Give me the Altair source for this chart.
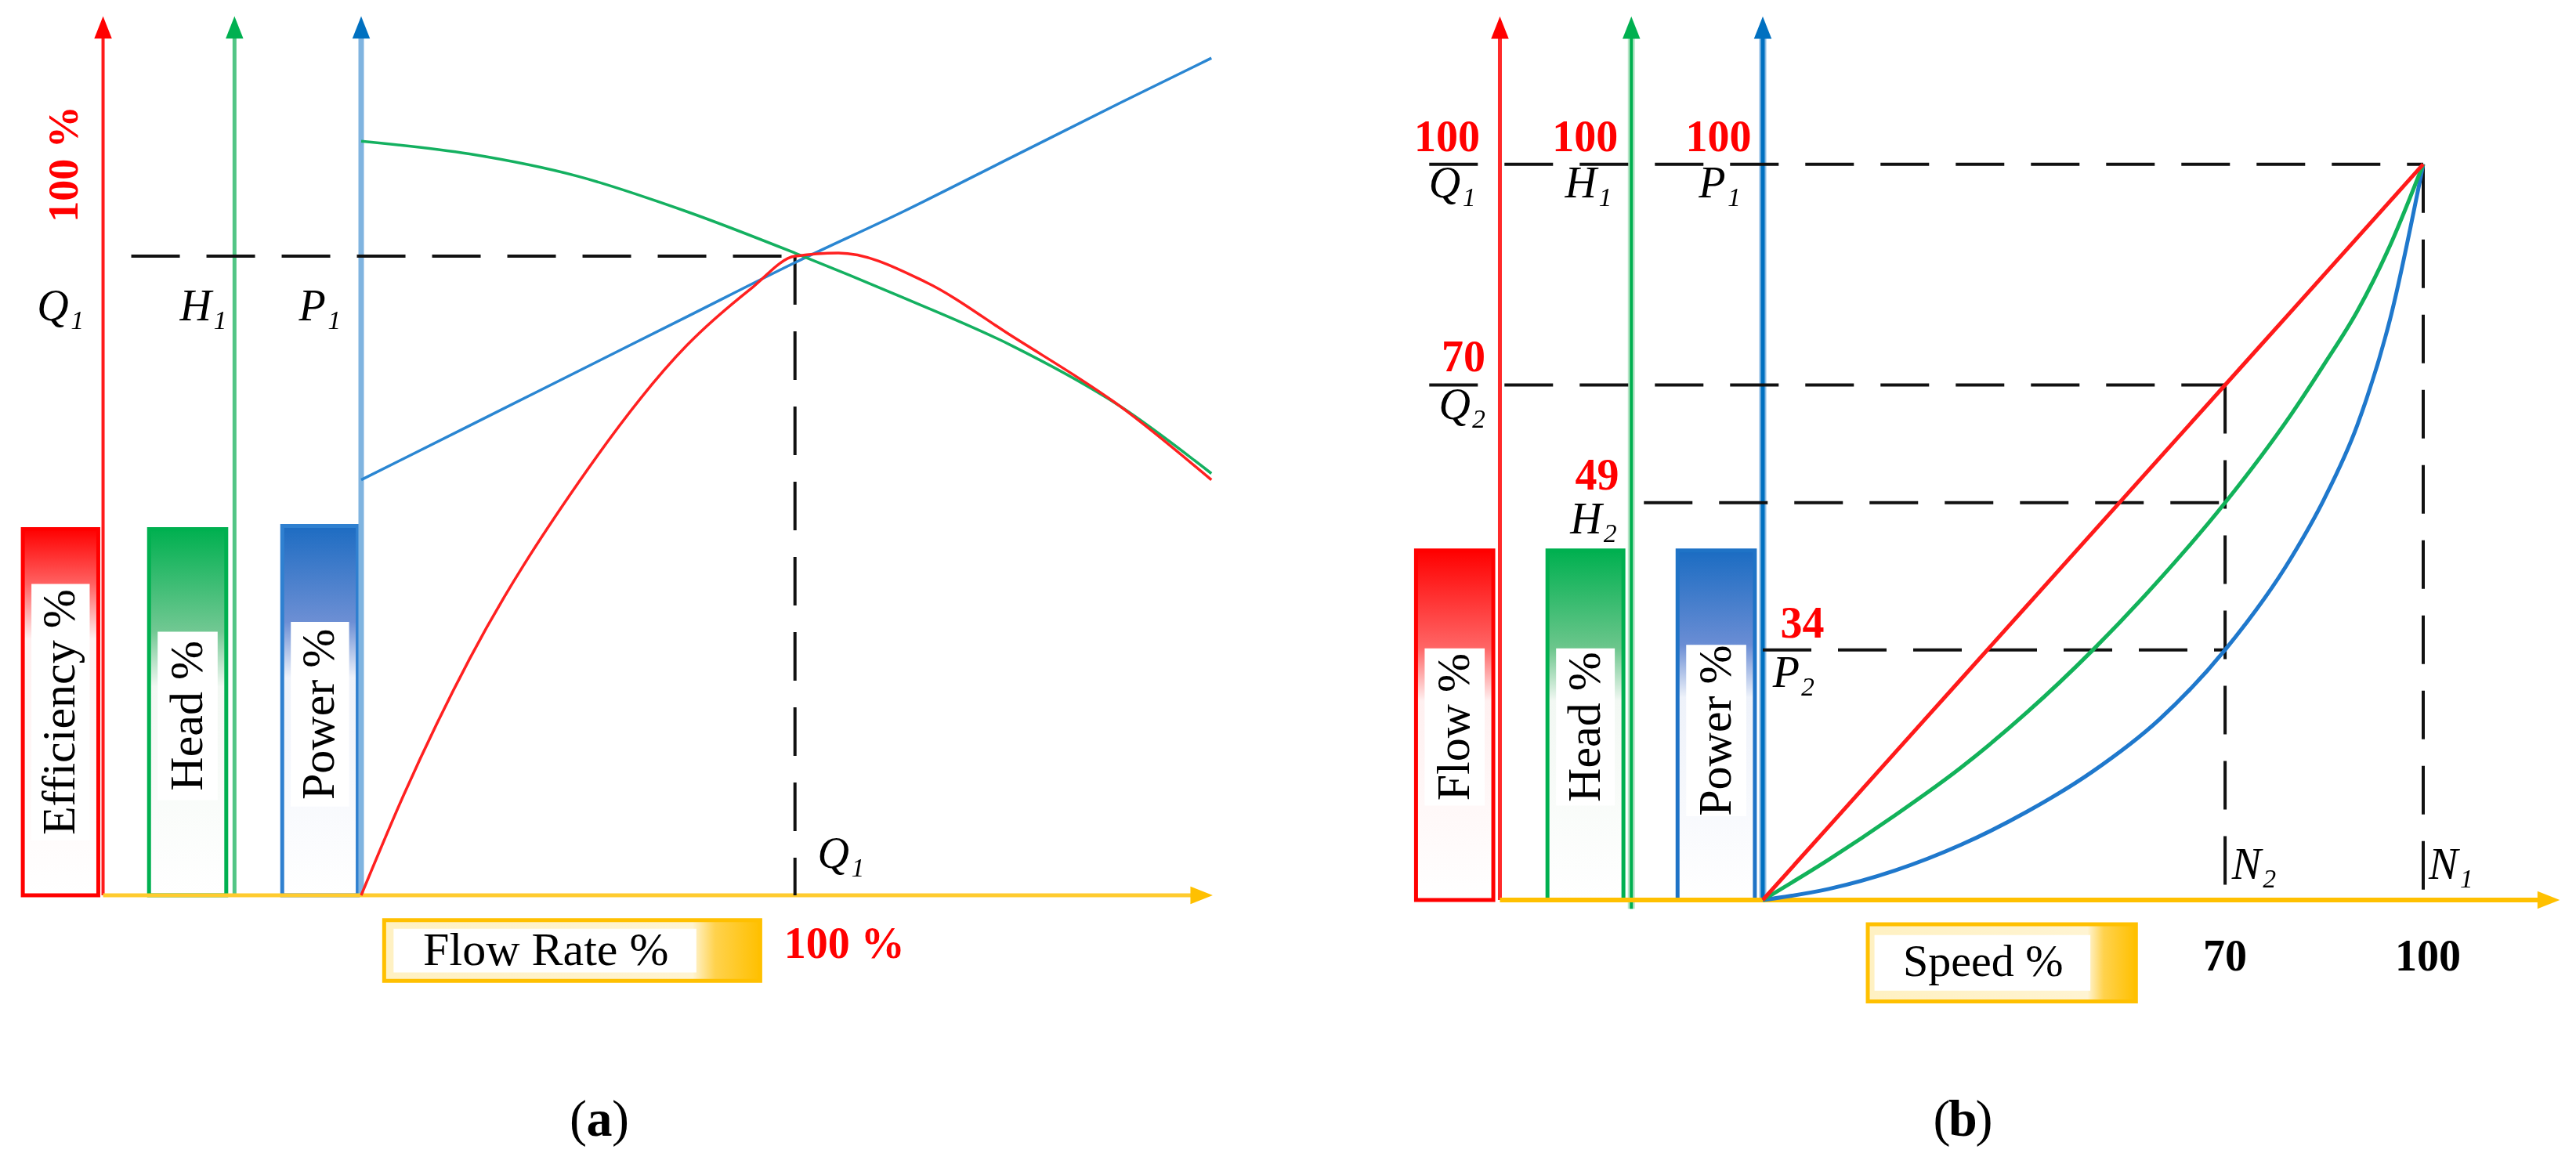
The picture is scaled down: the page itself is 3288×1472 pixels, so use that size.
import altair as alt
import pandas as pd

# ---------------- data: panel (a) pump characteristic curves ----------------
flow_eff = [0, 10, 25, 50, 75, 90, 100, 110, 130, 150, 175, 196]
efficiency_a = [0, 16, 37, 64.5, 86, 95, 100, 100.5, 96, 87.5, 76.5, 65]
flow_a = [0, 25, 50, 75, 100, 125, 150, 175, 196]
head_a = [118, 116, 112.5, 107, 100.5, 93.5, 86, 76.5, 66]
power_a = [65, 73.5, 82, 90.5, 99, 107, 115.5, 124, 131]
bep_flow = 100
bep_value = 100

# ---------------- data: panel (b) affinity laws ----------------
speed_b = [0, 10, 20, 30, 40, 50, 60, 70, 80, 85, 90, 95, 100]
flow_b = [0, 10, 20, 30, 40, 50, 60, 70, 80, 85, 90, 95, 100]
head_b = [0, 5.5, 11.5, 18, 25.5, 34, 43.5, 54, 66, 72.8, 80, 89, 100]
power_b = [0, 1.5, 4, 7.5, 12, 17.5, 24.5, 34, 46.5, 54.5, 64.5, 79, 100]
speed_points = [100, 70]
flow_marks = ["100", "70"]
head_marks = ["100", "49"]
power_marks = ["100", "34"]
speed_tick_labels = ["70", "100"]

RED, GREEN, BLUE, YELLOW = "#ff0000", "#00b050", "#0070c0", "#ffc000"
SERIF = "Liberation Serif"
ARROW_UP = "M0,-1L-0.75,0.9L0.75,0.9Z"
ARROW_RIGHT = "M1,0L-0.9,-0.75L-0.9,0.75Z"

W, H = 1636, 1448


class Panel:
    def __init__(self, x0, xppu, y0, yppu):
        self.xppu, self.yppu = xppu, yppu
        self.xs = alt.Scale(domain=[-x0 / xppu, (W - x0) / xppu], nice=False, zero=False)
        self.ys = alt.Scale(domain=[-(H - y0) / yppu, y0 / yppu], nice=False, zero=False)
        self.layers = []

    def enc(self, base, two=False):
        e = dict(x=alt.X("x:Q", scale=self.xs, axis=None),
                 y=alt.Y("y:Q", scale=self.ys, axis=None))
        if two:
            e["x2"] = alt.X2("x2:Q")
            e["y2"] = alt.Y2("y2:Q")
        return base.encode(**e)

    def seg(self, x, y, x2, y2, color, width, dash=None):
        df = pd.DataFrame({"x": [x], "y": [y], "x2": [x2], "y2": [y2]})
        kw = dict(color=color, strokeWidth=width)
        if dash:
            kw["strokeDash"] = dash
        self.layers.append(self.enc(alt.Chart(df).mark_rule(**kw), True))

    def dashed(self, x, y, x2, y2):
        self.seg(x, y, x2, y2, "#111111", 4, [62, 34])

    def curve(self, xs, ys, color, width):
        df = pd.DataFrame({"x": xs, "y": ys})
        self.layers.append(self.enc(alt.Chart(df).mark_line(
            color=color, strokeWidth=width, interpolate="monotone")))

    def arrow(self, x, y, shape, color, size=900):
        df = pd.DataFrame({"x": [x], "y": [y]})
        self.layers.append(self.enc(alt.Chart(df).mark_point(
            shape=shape, filled=True, size=size, color=color, opacity=1)))

    def text(self, x, y, s, size, color="black", weight="normal", style="normal",
             angle=0, dx=0, font=SERIF):
        df = pd.DataFrame({"x": [x], "y": [y], "t": [s]})
        kw = dict(font=font, fontSize=size, color=color, fontWeight=weight,
                  fontStyle=style, align="center", baseline="middle")
        if angle:
            kw["angle"] = angle
        if dx:
            kw["dx"] = dx
        self.layers.append(self.enc(alt.Chart(df).mark_text(**kw)).encode(text="t:N"))

    def caption(self, x, y, letter):
        self.text(x, y, "(", 66, dx=-27)
        self.text(x, y, letter, 66, weight="bold")
        self.text(x, y, ")", 66, dx=27)

    def rect(self, x, x2, y, y2, fill, stroke=None, sw=0):
        df = pd.DataFrame({"x": [x], "y": [y], "x2": [x2], "y2": [y2]})
        kw = dict(fill=fill)
        if stroke:
            kw.update(stroke=stroke, strokeWidth=sw)
        else:
            kw.update(strokeWidth=0)
        self.layers.append(self.enc(alt.Chart(df).mark_rect(**kw), True))

    def vbox(self, x, x2, ytop, c_top, c_mid, c_low, stroke, label, f_top, f_bot):
        grad = alt.Gradient(gradient="linear", x1=0, x2=0, y1=0, y2=1, stops=[
            alt.GradientStop(color=c_top, offset=0),
            alt.GradientStop(color=c_mid, offset=f_top),
            alt.GradientStop(color=c_low, offset=min(f_top + 0.15, 1)),
            alt.GradientStop(color="#ffffff", offset=1)])
        self.rect(x, x2, 0, ytop, grad, stroke, 5)
        inset = 11 / self.xppu
        self.rect(x + inset, x2 - inset, ytop * (1 - f_bot), ytop * (1 - f_top), "#ffffff")
        self.text((x + x2) / 2, ytop * (1 - (f_top + f_bot) / 2), label, 60, angle=270)

    def hbox(self, x, x2, y, y2, label, size):
        grad = alt.Gradient(gradient="linear", x1=0, x2=1, y1=0, y2=0, stops=[
            alt.GradientStop(color="#fff1c2", offset=0),
            alt.GradientStop(color="#fff4d2", offset=0.82),
            alt.GradientStop(color="#ffd24d", offset=0.88),
            alt.GradientStop(color=YELLOW, offset=1)])
        self.rect(x, x2, y, y2, grad, YELLOW, 5)
        w, h = x2 - x, y2 - y
        self.rect(x + 0.025 * w, x + 0.83 * w, y + 0.14 * h, y + 0.86 * h, "#ffffff")
        self.text(x + 0.43 * w, y + h / 2, label, size)

    def chart(self):
        return alt.layer(*self.layers).properties(width=W, height=H)


# ====================== panel (a) ======================
A = Panel(453, 5.537, 1135, 8.159)
A.vbox(-78, -60.6, 57.3, "#ff0000", "#ff6262", "#fff0f0", "#ff0000", "Efficiency %", 0.15, 0.85)
A.vbox(-48.9, -31.1, 57.3, "#00b050", "#72c893", "#f2f8f3", "#00b050", "Head %", 0.28, 0.74)
A.vbox(-18.2, -0.8, 57.8, "#1d6cc2", "#6d8fd4", "#eef2fa", "#2f80d0", "Power %", 0.26, 0.76)
A.hbox(5.3, 92, -13.4, -3.9, "Flow Rate %", 60)
A.seg(-59.5, 0, -59.5, 135.7, "#ff1a1a", 4)
A.seg(-29.2, 0, -29.2, 135.7, "#52c585", 5)
A.seg(0, 0, 0, 135.7, "#80b4e0", 7)
A.seg(-59.5, 0, 193.6, 0, "#ffcb2e", 5)
A.dashed(-53, bep_value, bep_flow, bep_value)
A.dashed(bep_flow, bep_value, bep_flow, 0)
A.curve(flow_a, power_a, "#2a86d2", 3.5)
A.curve(flow_a, head_a, "#14b060", 3.5)
A.curve(flow_eff, efficiency_a, "#ff2020", 3.5)
A.arrow(-59.5, 135.7, ARROW_UP, "#ff0000")
A.arrow(-29.2, 135.7, ARROW_UP, "#00b050")
A.arrow(0, 135.7, ARROW_UP, "#0070c0")
A.arrow(193.6, 0, ARROW_RIGHT, YELLOW)
A.text(-68.2, 114.4, "100 %", 54, RED, "bold", angle=270)
A.text(-69.3, 92, "Q\u2081", 56, style="italic")
A.text(-36.4, 92, "H\u2081", 56, style="italic")
A.text(-9.5, 92, "P\u2081", 56, style="italic")
A.text(110.6, 6.4, "Q\u2081", 56, style="italic")
A.text(111.4, -7.7, "100 %", 56, RED, "bold")
A.caption(54.9, -35.2, "a")

# ====================== panel (b) ======================
B = Panel(606, 8.43, 1141, 9.393)
B.vbox(-52.5, -40.8, 47.5, "#ff0000", "#ff6666", "#fff0f0", "#ff0000", "Flow %", 0.28, 0.73)
B.vbox(-32.6, -21.1, 47.5, "#00b050", "#6cc68c", "#f2f8f3", "#00b050", "Head %", 0.28, 0.73)
B.vbox(-12.9, -1.2, 47.5, "#1b6cc2", "#6a8dd4", "#eef2fa", "#1f73c6", "Power %", 0.27, 0.76)
B.hbox(15.9, 56.5, -13.8, -3.3, "Speed %", 58)
B.seg(-39.8, 0, -39.8, 118.5, "#ff2a2a", 5)
B.seg(-19.9, -1.2, -19.9, 118.5, "#b9e6c9", 9)
B.seg(-19.9, -1.2, -19.9, 118.5, GREEN, 4)
B.seg(0, 0, 0, 118.5, "#8cbce4", 9)
B.seg(0, 0, 0, 118.5, BLUE, 5)
B.seg(-39.8, 0, 118.9, 0, "#ffc000", 6)
# operating-point guide lines
i70 = speed_b.index(speed_points[1])
B.dashed(-50.5, 100, speed_points[0], 100)
B.dashed(speed_points[0], 100, speed_points[0], 0)
B.dashed(-50.5, flow_b[i70], speed_points[1], flow_b[i70])
B.dashed(speed_points[1], flow_b[i70], speed_points[1], 0)
B.dashed(-18, head_b[i70], speed_points[1], head_b[i70])
B.dashed(0, power_b[i70], speed_points[1], power_b[i70])
B.curve(speed_b, power_b, "#1f78cc", 5)
B.curve(speed_b, head_b, "#12b25a", 5)
B.curve(speed_b, flow_b, "#ff1a1a", 5)
B.arrow(-39.8, 118.5, ARROW_UP, "#ff0000")
B.arrow(-19.9, 118.5, ARROW_UP, "#00b050")
B.arrow(0, 118.5, ARROW_UP, "#0070c0")
B.arrow(118.9, 0, ARROW_RIGHT, YELLOW)
B.text(-47.8, 103.6, flow_marks[0], 56, RED, "bold")
B.text(-26.9, 103.6, head_marks[0], 56, RED, "bold")
B.text(-6.7, 103.6, power_marks[0], 56, RED, "bold")
B.text(-47.0, 97.3, "Q\u2081", 56, style="italic")
B.text(-26.4, 97.3, "H\u2081", 56, style="italic")
B.text(-6.5, 97.3, "P\u2081", 56, style="italic")
B.text(-45.3, 73.7, flow_marks[1], 56, RED, "bold")
B.text(-45.5, 67.2, "Q\u2082", 56, style="italic")
B.text(-25.1, 57.6, head_marks[1], 56, RED, "bold")
B.text(-25.6, 51.6, "H\u2082", 56, style="italic")
B.text(6.0, 37.5, power_marks[1], 56, RED, "bold")
B.text(4.7, 30.8, "P\u2082", 56, style="italic")
B.text(speed_points[1], -7.8, speed_tick_labels[0], 56, weight="bold")
B.text(speed_points[0] + 0.7, -7.8, speed_tick_labels[1], 56, weight="bold")
B.text(74.4, 4.7, "N\u2082", 56, style="italic")
B.text(104.2, 4.7, "N\u2081", 56, style="italic")
B.caption(30.3, -29.9, "b")

chart = alt.HConcatChart(hconcat=[A.chart(), B.chart()], spacing=0, bounds="flush",
                         padding=0).configure_view(stroke=None)
chart.save("out.html", embed_options={"renderer": "svg", "actions": False})
